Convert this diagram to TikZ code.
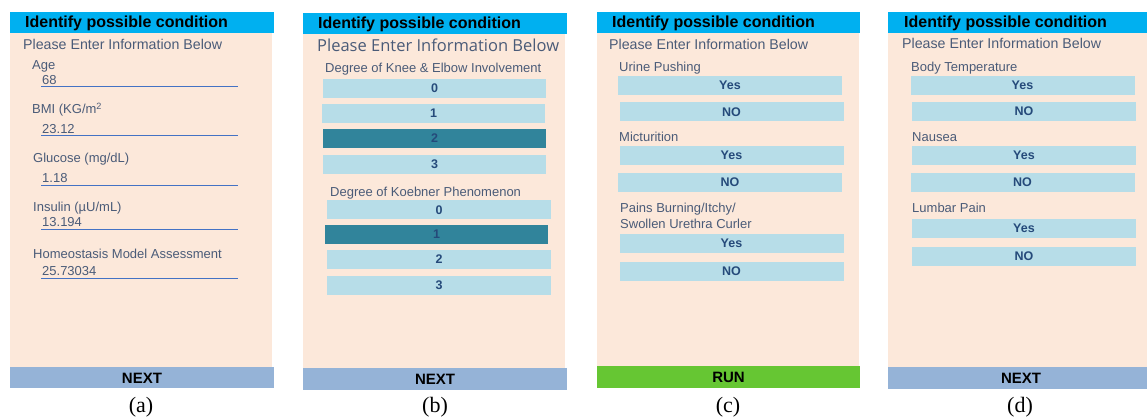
\documentclass[tikz,border=0pt]{standalone}
\usepackage{fontspec}
\setmainfont{Liberation Sans}
\newfontfamily\capfont{Liberation Serif}
\newfontfamily\widefont{Open Sans}

\definecolor{hdrblue}{HTML}{00B0F0}
\definecolor{peach}{HTML}{FCE8DA}
\definecolor{navblue}{HTML}{95B3D7}
\definecolor{rungreen}{HTML}{66C633}
\definecolor{btnblue}{HTML}{B7DDE8}
\definecolor{btndark}{HTML}{31849B}
\definecolor{btntext}{HTML}{254A7A}
\definecolor{slate}{HTML}{4A5B78}
\definecolor{lineblue}{HTML}{4472C4}

\tikzset{
  pagebg/.style={fill=peach},
  hdrbar/.style={fill=hdrblue},
  navbar/.style={fill=navblue},
  hdrtext/.style={anchor=mid west, inner sep=0pt, yshift=-2pt, font=\bfseries\fontsize{16}{18}\selectfont},
  navtext/.style={inner sep=0pt, font=\bfseries\fontsize{15}{17}\selectfont},
  please/.style={anchor=mid west, inner sep=0pt, yshift=-2pt, text=slate, font=\fontsize{14.2}{16}\selectfont},
  lbl/.style={anchor=mid west, inner sep=0pt, yshift=-2pt, text=slate, font=\fontsize{13}{15}\selectfont},
  fieldline/.style={draw=lineblue, line width=1pt},
  btn/.style={fill=btnblue, text=btntext, minimum width=224pt, minimum height=19pt,
    inner sep=0pt, font=\bfseries\fontsize{12.5}{14}\selectfont},
  btnon/.style={btn, fill=btndark},
  caption/.style={inner sep=0pt, font=\capfont\fontsize{22}{24}\selectfont}
}

\begin{document}
\begin{tikzpicture}[x=1pt, y=-1pt]
    \useasboundingbox (0,0) rectangle (1147,419);

    % (a): numeric inputs
    \fill[pagebg] (10,33) rectangle (272,367);
    \fill[hdrbar] (10,12) rectangle (274,33);
    \fill[navbar] (10,367) rectangle (274,388);
    \node[hdrtext] (titleA) at (25,23) {Identify possible condition};
    \node[please] (pleaseA) at (23,45) {Please Enter Information Below};
    \node[lbl] (age) at (32,65) {Age};
    \node[lbl] (ageval) at (42,80) {68};
    \draw[fieldline] (41,87) -- (238,87);
    \node[lbl] (bmi) at (32,109) {BMI (KG/m\textsuperscript{2}};
    \node[lbl] (bmival) at (42,129) {23.12};
    \draw[fieldline] (41,136) -- (238,136);
    \node[lbl] (glucose) at (33,158) {Glucose (mg/dL)};
    \node[lbl] (glucoseval) at (42,177.5) {1.18};
    \draw[fieldline] (41,186) -- (238,186);
    \node[lbl] (insulin) at (33,207) {Insulin (µU/mL)};
    \node[lbl] (insulinval) at (42,222) {13.194};
    \draw[fieldline] (41,230) -- (238,230);
    \node[lbl] (homa) at (33,254) {Homeostasis Model Assessment};
    \node[lbl] (homaval) at (42,271) {25.73034};
    \draw[fieldline] (41,279) -- (238,279);
    \node[navtext] (nextA) at (142,378) {NEXT};
    \node[caption] (capA) at (141,407) {(a)};

    % (b): degree choices
    \begin{scope}[shift={(293,0)}]
        \fill[pagebg] (10,34) rectangle (272,368);
        \fill[hdrbar] (10,13) rectangle (274,34);
        \fill[navbar] (10,368) rectangle (274,390);
        \node[hdrtext] (titleB) at (25,24) {Identify possible condition};
        \node[please, font=\widefont\fontsize{16.5}{18}\selectfont] (pleaseB) at (24,47) {Please Enter Information Below};
        \node[lbl] (knee) at (32,68) {Degree of Knee \& Elbow Involvement};
        \node[btn, minimum width=223pt] (knee0) at (141.5,88.5) {0};
        \node[btn, minimum width=223pt] (knee1) at (140.5,113.5) {1};
        \node[btnon, minimum width=223pt] (knee2) at (141.5,138.5) {2};
        \node[btn, minimum width=223pt] (knee3) at (141.5,164.5) {3};
        \node[lbl] (koebner) at (37,192) {Degree of Koebner Phenomenon};
        \node[btn] (koeb0) at (146,210) {0};
        \node[btnon, minimum width=223pt] (koeb1) at (143.5,234.5) {1};
        \node[btn] (koeb2) at (146,259.5) {2};
        \node[btn] (koeb3) at (146,285.5) {3};
        \node[navtext] (nextB) at (142,379) {NEXT};
        \node[caption] (capB) at (142,407) {(b)};
    \end{scope}

    % (c): yes/no questions, run
    \begin{scope}[shift={(587,0)}]
        \fill[pagebg] (10,33) rectangle (272,366);
        \fill[hdrbar] (10,12) rectangle (273,33);
        \fill[rungreen] (10,366) rectangle (273,388);
        \node[hdrtext] (titleC) at (25,23) {Identify possible condition};
        \node[please] (pleaseC) at (22,45) {Please Enter Information Below};
        \node[lbl] (urine) at (32,67) {Urine Pushing};
        \node[btn] (urineyes) at (143,85.5) {Yes};
        \node[btn] (urineno) at (144.5,112) {NO};
        \node[lbl] (mict) at (32,137) {Micturition};
        \node[btn] (mictyes) at (144.5,155.5) {Yes};
        \node[btn] (mictno) at (143,182.5) {NO};
        \node[lbl] (pains) at (33,208) {Pains Burning/Itchy/};
        \node[lbl] (swollen) at (33,224) {Swollen Urethra Curler};
        \node[btn] (painsyes) at (144.5,243.5) {Yes};
        \node[btn] (painsno) at (144.5,271.5) {NO};
        \node[navtext] (runC) at (141.5,377) {RUN};
        \node[caption] (capC) at (141,407) {(c)};
    \end{scope}

    % (d): yes/no questions, next
    \begin{scope}[shift={(878,0)}]
        \fill[pagebg] (10,33) rectangle (269,367);
        \fill[hdrbar] (10,12) rectangle (269,33);
        \fill[navbar] (10,367) rectangle (269,389);
        \node[hdrtext] (titleD) at (26,23) {Identify possible condition};
        \node[please] (pleaseD) at (24,44) {Please Enter Information Below};
        \node[lbl] (bodyt) at (33,67) {Body Temperature};
        \node[btn] (bodytyes) at (144.5,85.5) {Yes};
        \node[btn] (bodytno) at (146,111.5) {NO};
        \node[lbl] (nausea) at (34,137) {Nausea};
        \node[btn] (nauseayes) at (146,155.5) {Yes};
        \node[btn] (nauseano) at (144.5,182.5) {NO};
        \node[lbl] (lumbar) at (34,208) {Lumbar Pain};
        \node[btn] (lumbaryes) at (146,228.5) {Yes};
        \node[btn] (lumbarno) at (146,256.5) {NO};
        \node[navtext] (nextD) at (143,378) {NEXT};
        \node[caption] (capD) at (142,407) {(d)};
    \end{scope}
\end{tikzpicture}
\end{document}
